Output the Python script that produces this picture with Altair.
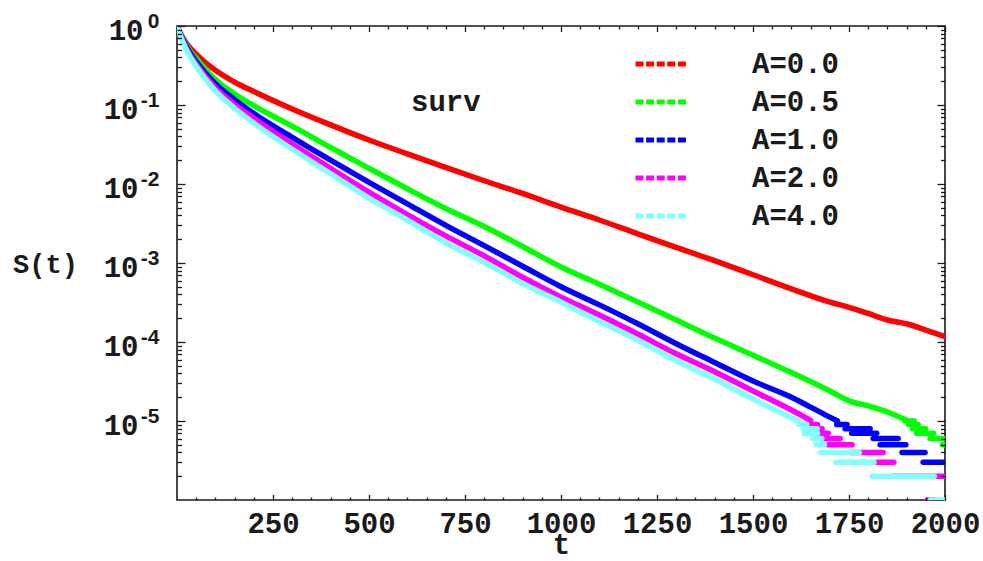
import altair as alt
import pandas as pd

# Survival probability S(t) for several values of the coupling A
series = ["A=0.0", "A=0.5", "A=1.0", "A=2.0", "A=4.0"]
colors = ["#ff0000", "#00ff00", "#0000ff", "#ff00ff", "#80ffff"]

# smooth (well-sampled) part of each curve
t_a00 = [0, 10, 25, 50, 100, 150, 200, 300, 400, 500, 600, 700, 800, 900, 1000,
         1100, 1200, 1300, 1400, 1500, 1600, 1700, 1750, 1800, 1850, 1880, 1900, 1950, 2000]
s_a00 = [1.0, 0.79, 0.60, 0.44, 0.275, 0.195, 0.148, 0.089, 0.056, 0.036, 0.024, 0.0162,
         0.011, 0.0076, 0.0051, 0.0035, 0.00234, 0.00158, 0.00107, 7.1e-4, 4.7e-4, 3.2e-4,
         2.75e-4, 2.3e-4, 1.9e-4, 1.78e-4, 1.7e-4, 1.41e-4, 1.17e-4]

t_a05 = [0, 10, 25, 50, 100, 150, 200, 300, 400, 500, 600, 700, 800, 900, 1000,
         1100, 1200, 1300, 1400, 1500, 1600, 1700, 1750, 1800, 1850, 1900]
s_a05 = [1.0, 0.78, 0.56, 0.39, 0.21, 0.138, 0.098, 0.054, 0.029, 0.0158, 0.0087, 0.0049,
         0.0029, 0.00162, 8.9e-4, 5.4e-4, 3.2e-4, 1.9e-4, 1.12e-4, 6.8e-5, 4.1e-5, 2.4e-5,
         1.8e-5, 1.55e-5, 1.3e-5, 1.02e-5]

t_a10 = [0, 10, 25, 50, 100, 150, 200, 300, 400, 500, 600, 700, 800, 900, 1000,
         1100, 1200, 1300, 1400, 1500, 1600, 1650, 1700, 1720]
s_a10 = [1.0, 0.76, 0.54, 0.355, 0.186, 0.117, 0.078, 0.039, 0.020, 0.0105, 0.0056, 0.0030,
         0.00166, 9.1e-4, 5.0e-4, 2.95e-4, 1.7e-4, 9.5e-5, 5.5e-5, 3.2e-5, 2.0e-5, 1.5e-5,
         1.12e-5, 1.0e-5]

t_a20 = [0, 10, 25, 50, 100, 150, 200, 300, 400, 500, 600, 700, 800, 900, 1000,
         1100, 1200, 1300, 1400, 1500, 1600, 1650]
s_a20 = [1.0, 0.74, 0.51, 0.33, 0.166, 0.102, 0.068, 0.032, 0.0158, 0.0079, 0.0041, 0.0022,
         0.00123, 6.6e-4, 3.7e-4, 2.2e-4, 1.26e-4, 7.1e-5, 4.2e-5, 2.4e-5, 1.38e-5, 1.02e-5]

t_a40 = [0, 10, 25, 50, 100, 150, 200, 300, 400, 500, 600, 700, 800, 900, 1000,
         1100, 1200, 1300, 1400, 1500, 1600, 1620]
s_a40 = [1.0, 0.72, 0.49, 0.31, 0.151, 0.091, 0.059, 0.0275, 0.0135, 0.0066, 0.0035, 0.0018,
         0.00102, 5.5e-4, 3.2e-4, 1.82e-4, 1.05e-4, 5.8e-5, 3.4e-5, 1.9e-5, 1.1e-5, 1.0e-5]

# late-time plateaus with only a few survivors: (t_start, t_end, S)
steps_a00 = []
steps_a05 = [(1895, 1920, 1.0e-5), (1905, 1930, 9e-6), (1915, 1950, 8e-6),
             (1926, 1970, 7e-6), (1961, 1995, 6e-6), (1993, 2000, 5e-6)]
steps_a10 = [(1718, 1745, 9e-6), (1740, 1805, 8e-6), (1757, 1822, 7e-6), (1813, 1878, 6e-6),
             (1831, 1898, 5e-6), (1888, 1948, 4e-6), (1943, 2000, 3e-6)]
steps_a20 = [(1650, 1668, 9e-6), (1655, 1680, 8e-6), (1666, 1696, 7e-6), (1674, 1727, 6e-6),
             (1695, 1758, 5e-6), (1753, 1839, 4e-6), (1822, 1867, 3e-6), (1867, 2000, 2e-6),
             (1955, 1972, 1e-6)]
steps_a40 = [(1620, 1640, 9e-6), (1631, 1667, 8e-6), (1633, 1668, 7e-6), (1655, 1679, 6e-6),
             (1664, 1686, 5e-6), (1677, 1777, 4e-6), (1716, 1815, 3e-6), (1810, 1972, 2e-6),
             (1962, 2000, 1e-6)]

# annotation inside the plot
note_t = [700]
note_s = [0.11]
note_text = ["surv"]

curves = [(t_a00, s_a00, steps_a00), (t_a05, s_a05, steps_a05), (t_a10, s_a10, steps_a10),
          (t_a20, s_a20, steps_a20), (t_a40, s_a40, steps_a40)]

rows = []
for name, (ts, ss, steps) in zip(series, curves):
    for i, (t, s) in enumerate(zip(ts, ss)):
        rows.append({"series": name, "seg": f"{name}-0", "idx": i, "t": t, "S": s})
    for k, (t0, t1, s) in enumerate(steps, start=1):
        rows.append({"series": name, "seg": f"{name}-{k}", "idx": 0, "t": t0, "S": s})
        rows.append({"series": name, "seg": f"{name}-{k}", "idx": 1, "t": t1, "S": s})
df = pd.DataFrame(rows)
notes = pd.DataFrame({"t": note_t, "S": note_s, "label": note_text})
anchor = pd.DataFrame({"t": [1000], "S": [0.01]})

FONT = "Liberation Mono"
EXP_FONT = "Liberation Sans"
INK = "#1a1a1a"
FS = 29

xscale = alt.Scale(domain=[0, 2000], nice=False, zero=False)
yscale = alt.Scale(type="log", domain=[1e-6, 1], nice=False)

x_major = list(range(250, 2001, 250))
x_minor = [v for v in range(50, 2000, 50) if v % 250]
y_major = [1, 1e-1, 1e-2, 1e-3, 1e-4, 1e-5]
y_minor = [k * 10.0 ** e for e in range(-6, 0) for k in range(2, 10)]


def tick_axis(orient, values, size):
    # inward-pointing ticks: pull the axis inside the frame by its tick length
    return alt.Axis(orient=orient, values=values, labels=False, domain=False, grid=False,
                    ticks=True, tickSize=size, offset=-size, tickColor=INK, tickWidth=1.3,
                    title=None, zindex=1)


x_labels = alt.Axis(orient="bottom", values=x_major, format="d", labelFont=FONT,
                    labelFontSize=FS, labelFontWeight="bold", labelColor=INK,
                    labelPadding=32, labelBaseline="alphabetic", labelFlush=False,
                    labelOverlap=False, ticks=False, tickSize=0, domain=False, grid=False,
                    title="t", titleFont=FONT, titleFontSize=FS, titleFontWeight="bold",
                    titleColor=INK, titleX=384, titleY=53, titleAlign="center",
                    titleBaseline="alphabetic")

# mantissa "10" of the decade labels; sits a little further left when the exponent is negative
y_base = alt.Axis(orient="left", values=y_major, labelExpr="'10'", labelFont=FONT,
                  labelFontSize=FS, labelFontWeight="bold", labelColor=INK,
                  labelPadding={"condition": {"test": "datum.value > 0.5", "value": 34},
                                "value": 39},
                  labelAlign="right", labelBaseline="middle", labelOffset=4,
                  labelOverlap=False, labelFlush=False, ticks=False, tickSize=0,
                  domain=False, grid=False, title="S(t)", titleFont=FONT, titleFontSize=27,
                  titleFontWeight="bold", titleColor=INK, titleAngle=0, titleX=-132,
                  titleY=238, titleAlign="center", titleBaseline="middle")

# exponent of each decade, raised like a superscript
y_exp = alt.Axis(orient="left", values=y_major,
                 labelExpr="'' + round(log(datum.value) / LN10)", labelFont=EXP_FONT,
                 labelFontSize=21, labelFontWeight="bold", labelColor=INK, labelPadding=18,
                 labelAlign="right", labelBaseline="middle", labelOffset=-5,
                 labelOverlap=False, labelFlush=False, ticks=False, tickSize=0,
                 domain=False, grid=False, title=None)


def X(axis):
    return alt.X("t:Q", scale=xscale, axis=axis)


def Y(axis):
    return alt.Y("S:Q", scale=yscale, axis=axis)


legend = alt.Legend(orient="none", legendX=456, legendY=19, title=None, symbolType="stroke",
                    symbolSize=2704, symbolStrokeWidth=5, symbolDash=[8, 2.6], symbolOffset=0,
                    labelFont=FONT, labelFontSize=FS, labelFontWeight="bold", labelColor=INK,
                    labelOffset=62, labelBaseline="middle", clipHeight=38, rowPadding=0,
                    padding=0)

lines = alt.Chart(df).mark_line(strokeWidth=5.5, strokeCap="round", strokeJoin="round",
                                interpolate="monotone", clip=True).encode(
    x=X(x_labels),
    y=Y(y_base),
    color=alt.Color("series:N", scale=alt.Scale(domain=series, range=colors), legend=legend),
    detail="seg:N",
    order="idx:Q",
)


def ghost(x_axis, y_axis):
    return alt.Chart(anchor).mark_point(opacity=0).encode(x=X(x_axis), y=Y(y_axis))


layers = [
    lines,
    ghost(tick_axis("bottom", x_major, 5.5), y_exp),
    ghost(tick_axis("bottom", x_minor, 3), tick_axis("left", y_major, 8)),
    ghost(tick_axis("top", x_major, 5.5), tick_axis("left", y_minor, 4.5)),
    ghost(tick_axis("top", x_minor, 3), tick_axis("right", y_major, 8)),
    ghost(None, tick_axis("right", y_minor, 4.5)),
    alt.Chart(notes).mark_text(font=FONT, fontSize=FS, fontWeight="bold", color=INK,
                               align="center", baseline="middle").encode(
        x=X(None), y=Y(None), text="label:N"),
]

chart = alt.layer(*layers).resolve_axis(x="independent", y="independent").properties(
    width=768,
    height=474,
    autosize=alt.AutoSizeParams(type="none"),
    padding={"left": 177, "top": 26, "right": 38, "bottom": 61},
    background="white",
).configure_view(stroke=INK, strokeWidth=1.6)

chart.save("out.html", embed_options={"renderer": "svg", "actions": False})
